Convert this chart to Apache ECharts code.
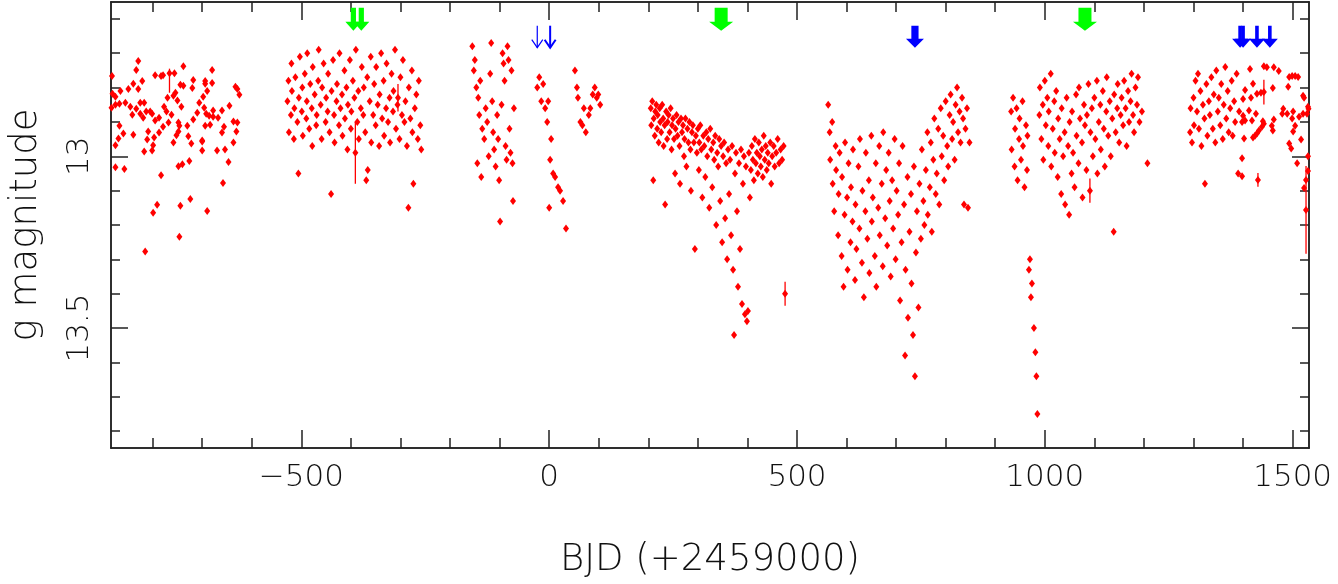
<!DOCTYPE html>
<html>
<head>
<meta charset="utf-8">
<title>g magnitude light curve</title>
<script src="https://cdn.jsdelivr.net/npm/echarts@6/dist/echarts.min.js"></script>
<style>
  html, body { margin: 0; padding: 0; background: #fff; }
  #chart { width: 1338px; height: 584px; }
</style>
</head>
<body>
<div id="chart"></div>
<script>
// ---- data: [BJD - 2459000, g mag] ----
const season1 = [[-882,12.766],[-829,12.723],[-833,12.749],[-738,12.738],[-680,12.749],[-795,12.764],[-783,12.766],[-779,12.764],[-766,12.758],[-756,12.758],[-718,12.778],[-821,12.781],[-744,12.792],[-738,12.795],[-720,12.801],[-694,12.781],[-694,12.789],[-680,12.787],[-633,12.798],[-629,12.804],[-625,12.821],[-690,12.810],[-881,12.818],[-875,12.827],[-865,12.810],[-849,12.804],[-839,12.789],[-829,12.804],[-770,12.830],[-777,12.856],[-758,12.824],[-754,12.815],[-750,12.838],[-762,12.879],[-742,12.856],[-883,12.859],[-875,12.850],[-867,12.847],[-855,12.844],[-845,12.856],[-841,12.879],[-833,12.862],[-825,12.844],[-817,12.844],[-813,12.870],[-825,12.876],[-819,12.888],[-805,12.870],[-801,12.876],[-795,12.896],[-787,12.888],[-779,12.914],[-768,12.902],[-748,12.902],[-748,12.928],[-758,12.960],[-746,12.911],[-730,12.911],[-718,12.893],[-710,12.873],[-706,12.844],[-698,12.827],[-696,12.859],[-694,12.911],[-692,12.876],[-686,12.882],[-684,12.908],[-678,12.867],[-678,12.885],[-668,12.888],[-660,12.867],[-645,12.853],[-656,12.914],[-660,12.931],[-637,12.899],[-629,12.902],[-631,12.928],[-637,12.960],[-647,13.017],[-654,12.980],[-658,13.078],[-670,12.983],[-700,12.957],[-700,12.983],[-722,12.963],[-726,13.014],[-740,13.023],[-748,13.029],[-728,12.942],[-799,12.968],[-801,12.983],[-811,12.951],[-809,12.928],[-817,12.986],[-839,12.937],[-859,12.934],[-867,12.911],[-869,12.948],[-875,12.968],[-875,13.032],[-857,13.037],[-783,13.055],[-791,13.141],[-799,13.164],[-744,13.144],[-724,13.124],[-690,13.159],[-746,13.234],[-815,13.277],[-787,12.931],[-797,12.945],[-752,12.939],[-700,12.954],[-772,12.870]];

const season2 = [[-528,12.84],[-526,12.78],[-525,12.93],[-521,12.88],[-520,12.73],[-519,12.81],[-515,12.95],[-514,12.86],[-512,12.77],[-508,12.90],[-506,13.05],[-505,12.83],[-503,12.71],[-499,12.87],[-498,12.80],[-497,12.94],[-493,12.76],[-490,12.89],[-489,12.84],[-488,12.70],[-484,12.92],[-482,12.79],[-479,12.86],[-478,12.97],[-477,12.74],[-473,12.82],[-470,12.91],[-469,12.88],[-466,12.78],[-465,12.69],[-461,12.85],[-459,12.95],[-458,12.80],[-455,12.73],[-451,12.90],[-450,12.83],[-447,12.87],[-446,12.76],[-443,12.93],[-440,13.11],[-439,12.81],[-436,12.72],[-434,12.88],[-433,12.96],[-429,12.84],[-428,12.79],[-424,12.91],[-423,12.70],[-421,12.86],[-418,12.82],[-417,12.94],[-413,12.75],[-412,12.89],[-409,12.80],[-407,12.98],[-406,12.85],[-402,12.72],[-400,12.92],[-399,12.87],[-396,12.78],[-393,12.83],[-391,12.99],[-390,12.69],[-387,12.90],[-385,12.81],[-384,12.95],[-380,12.86],[-378,12.74],[-375,12.88],[-374,12.80],[-371,12.93],[-369,13.07],[-367,12.77],[-366,13.04],[-362,12.84],[-360,12.71],[-359,12.96],[-355,12.88],[-353,12.79],[-350,12.91],[-349,12.74],[-346,12.85],[-343,12.97],[-342,12.82],[-339,12.70],[-337,12.89],[-334,12.78],[-333,12.94],[-329,12.86],[-328,12.73],[-325,12.90],[-322,12.83],[-321,12.96],[-318,12.76],[-315,12.87],[-314,12.81],[-311,12.69],[-309,12.92],[-306,12.85],[-305,12.83],[-302,12.95],[-300,12.77],[-297,12.88],[-295,12.72],[-292,12.90],[-290,12.84],[-287,12.97],[-284,13.15],[-283,12.80],[-280,12.89],[-277,12.75],[-276,12.93],[-274,13.08],[-271,12.86],[-268,12.82],[-265,12.95],[-263,12.78],[-260,12.91],[-258,12.98]];

const season3 = [[-155,12.68],[-152,12.75],[-150,12.72],[-147,12.80],[-145,13.02],[-143,12.83],[-141,12.88],[-139,12.78],[-137,13.06],[-135,12.92],[-131,12.95],[-128,12.86],[-125,12.90],[-122,13.00],[-119,12.76],[-117,12.67],[-115,12.84],[-113,12.93],[-111,12.98],[-108,13.03],[-105,12.88],[-103,12.95],[-101,13.07],[-99,13.19],[-96,12.85],[-94,12.70],[-92,12.73],[-90,12.78],[-88,12.97],[-86,13.01],[-84,12.68],[-82,12.72],[-80,12.92],[-78,12.99],[-76,12.75],[-74,13.02],[-73,13.13],[-71,12.86],
  [-24,12.80],[-20,12.77],[-16,12.84],[-12,12.79],[-8,12.86],[-4,12.90],[-2,12.84],[2,13.01],[4,12.95],[0,13.15],[8,13.05],[12,13.06],[18,13.09],[22,13.10],[28,13.13],[34,13.21],[52,12.75],[56,12.80],[58,12.83],[63,12.90],[67,12.91],[70,12.86],[74,12.93],[80,12.88],[83,12.86],[88,12.82],[92,12.80],[96,12.83],[99,12.82],[103,12.85]];

const season4 = [[205,12.86],[206,12.91],[208,12.84],[210,13.07],[211,12.89],[213,12.94],[214,12.87],[216,12.85],[218,12.92],[219,12.88],[221,12.96],[223,12.86],[224,12.90],[226,12.93],[228,12.85],[230,12.89],[231,12.97],[233,12.91],[234,13.14],[236,12.87],[238,12.95],[239,12.90],[241,12.88],[243,12.93],[245,12.86],[247,12.98],[248,12.91],[250,12.89],[252,12.95],[254,13.05],[255,12.92],[257,12.88],[259,12.94],[261,12.90],[263,12.97],[264,13.08],[266,12.89],[268,12.93],[270,12.91],[272,13.00],[273,12.95],[275,12.89],[277,13.03],[279,12.92],[281,12.96],[283,12.90],[285,12.98],[286,13.10],[288,12.93],[290,12.91],[292,12.96],[294,13.27],[296,12.94],[298,12.99],[300,12.92],[302,13.04],[303,12.96],[305,12.91],[307,12.98],[309,13.12],[311,12.94],[313,12.97],[315,13.06],[317,12.93],[319,13.00],[321,12.95],[323,13.15],[325,12.92],[327,12.98],[329,13.09],[331,12.96],[333,13.01],[335,12.94],[337,13.20],[339,12.99],[341,13.03],[343,12.95],[345,13.13],[347,12.97],[349,13.25],[351,13.00],[353,12.96],[355,13.18],[357,13.02],[359,13.30],[361,12.98],[363,13.11],[365,13.01],[367,13.23],[369,12.97],[371,13.33],[373,13.52],[375,13.05],[377,12.99],[379,13.16],[381,13.38],[383,13.02],[385,13.27],[387,12.98],[389,13.43],[391,13.08],[393,13.00],[395,13.46],[397,13.03],[399,13.48],[401,13.45],[403,12.99],[405,13.12],[407,13.04],[409,12.97],[411,13.01],[413,13.07],[415,12.95],[417,13.02],[419,12.99],[421,13.05],[423,12.96],[425,13.00],[427,13.03],[429,12.98],[431,13.06],[433,12.94],[435,13.01],[437,12.97],[439,13.04],[441,12.99],[443,13.02],[446,12.96],[448,13.08],[450,13.00],[453,12.97],[455,13.03],[458,12.99],[461,12.95],[464,13.02],[467,12.98],[470,13.01],[473,12.97],[476,13.40]];

const season5 = [[563,12.85],[566,12.93],[567,13.01],[571,12.90],[572,13.08],[575,13.16],[578,12.97],[579,13.04],[583,13.23],[584,13.11],[586,12.99],[590,13.29],[591,13.06],[594,13.38],[596,13.17],[597,12.96],[601,13.12],[602,13.33],[604,13.02],[608,13.25],[609,13.09],[612,13.19],[613,12.98],[617,13.36],[618,13.14],[620,13.27],[624,13.03],[626,13.21],[627,12.95],[631,13.31],[632,13.10],[635,13.41],[638,13.16],[639,12.99],[642,13.24],[645,13.07],[646,13.34],[650,12.94],[651,13.19],[653,13.12],[657,13.29],[659,13.02],[660,13.38],[664,13.15],[666,12.97],[667,13.23],[671,13.08],[673,13.32],[674,12.93],[678,13.18],[680,13.04],[682,13.26],[685,12.99],[687,13.13],[689,13.35],[692,13.07],[694,13.21],[697,12.95],[699,13.30],[701,13.10],[704,13.17],[706,13.02],[708,13.42],[711,13.25],[713,12.97],[716,13.14],[718,13.58],[719,13.33],[723,13.06],[724,13.47],[727,13.22],[730,13.11],[731,13.37],[734,13.52],[736,13.03],[738,13.64],[740,13.28],[742,13.16],[745,13.44],[747,13.08],[750,13.24],[752,12.98],[755,13.13],[757,13.20],[760,13.04],[763,12.93],[764,13.17],[768,13.09],[770,12.96],[772,13.22],[775,13.01],[777,12.89],[780,13.11],[782,13.05],[785,12.92],[787,13.14],[790,12.86],[792,13.00],[795,12.94],[797,13.07],[800,12.84],[803,12.97],[805,13.03],[808,12.88],[810,12.82],[813,12.95],[815,12.90],[818,13.01],[820,12.85],[823,12.80],[825,12.93],[828,12.87],[830,12.96],[833,12.83],[835,12.89],[837,13.14],[840,12.92],[843,12.86],[845,13.15],[848,12.96]];

const season6 = [[932,12.87],[933,12.98],[936,12.83],[939,13.03],[940,12.92],[943,12.86],[945,13.07],[948,12.95],[949,12.89],[952,13.01],[955,12.84],[956,12.97],[959,13.09],[962,12.91],[964,13.04],[965,12.94],[968,13.33],[970,13.30],[972,13.41],[974,13.37],[978,13.50],[981,13.57],[983,13.64],[985,13.75],[989,12.88],[990,12.80],[993,12.95],[996,12.85],[997,13.01],[1000,12.78],[1002,12.91],[1005,12.83],[1007,12.97],[1008,12.87],[1012,12.76],[1013,13.03],[1016,12.92],[1019,12.84],[1020,12.99],[1023,12.81],[1026,13.06],[1027,12.89],[1030,12.95],[1033,13.11],[1034,12.86],[1037,13.00],[1040,12.93],[1041,13.14],[1044,12.83],[1047,12.97],[1049,13.17],[1050,12.90],[1054,13.05],[1055,12.87],[1057,12.99],[1060,13.09],[1063,12.82],[1064,12.94],[1068,13.02],[1069,12.80],[1071,12.89],[1075,12.96],[1076,13.12],[1079,12.85],[1081,12.91],[1084,13.04],[1085,12.88],[1088,12.79],[1091,13.10],[1092,12.93],[1095,12.86],[1097,13.00],[1100,12.83],[1102,12.95],[1105,12.78],[1106,13.05],[1109,12.90],[1112,12.85],[1113,12.98],[1117,12.81],[1119,12.92],[1121,13.03],[1124,12.87],[1125,12.77],[1128,12.94],[1131,12.84],[1133,13.00],[1136,12.89],[1139,13.22],[1140,12.82],[1143,12.93],[1146,12.86],[1147,12.79],[1150,12.96],[1153,12.88],[1155,12.83],[1158,12.91],[1160,12.78],[1163,12.86],[1165,12.97],[1168,12.81],[1170,12.90],[1173,12.84],[1175,12.76],[1178,12.88],[1180,12.93],[1183,12.80],[1186,12.85],[1188,12.77],[1191,12.90],[1196,12.87],[1207,13.02]];

const season7 = [[1293,12.93],[1294,12.86],[1297,12.96],[1300,12.83],[1301,12.91],[1304,12.78],[1307,12.87],[1309,12.76],[1311,12.92],[1314,12.81],[1316,12.97],[1319,12.85],[1322,12.89],[1323,13.08],[1326,12.79],[1328,12.94],[1331,12.84],[1333,12.88],[1336,12.77],[1339,12.92],[1341,12.82],[1344,12.96],[1346,12.75],[1349,12.87],[1351,12.83],[1354,12.91],[1356,12.79],[1359,12.95],[1361,12.85],[1364,12.74],[1366,12.89],[1369,12.81],[1371,12.93],[1374,12.86],[1377,12.78],[1379,12.94],[1382,12.84],[1384,12.90],[1387,12.76],[1390,13.05],[1392,12.87],
  [1414,12.746],[1442,12.738],[1448,12.741],[1462,12.741],[1472,12.752],[1404,12.807],[1420,12.789],[1400,12.833],[1416,12.830],[1428,12.818],[1436,12.815],[1442,12.813],[1460,12.801],[1493,12.769],[1499,12.766],[1505,12.766],[1511,12.769],[1491,12.798],[1521,12.824],[1523,12.830],[1531,12.856],[1532,12.862],[1529,12.876],[1521,12.876],[1513,12.885],[1501,12.870],[1499,12.890],[1489,12.876],[1481,12.862],[1479,12.876],[1462,12.893],[1458,12.911],[1460,12.925],[1442,12.905],[1440,12.898],[1438,12.914],[1432,12.925],[1428,12.934],[1424,12.940],[1426,12.876],[1418,12.896],[1412,12.867],[1400,12.882],[1404,12.896],[1398,12.900],[1402,12.948],[1420,12.945],[1505,12.911],[1501,12.928],[1493,12.963],[1497,12.977],[1517,12.951],[1509,13.020],[1531,13.000],[1531,13.043],[1527,13.069],[1523,13.092],[1527,13.156],[1430,13.069],[1398,13.006],[1398,13.058]];

// points with visible error bars: [day, mag, err]
const errorBars = [[-766,12.78,0.035],[-391,12.99,0.09],[-305,12.83,0.04],[476,13.40,0.035],[1091,13.10,0.035],[1442,12.813,0.036],[1430,13.069,0.02],[1527,13.156,0.128]];

// event markers (days)
const greenPairDays = [-395, -379];
const greenDays = [347, 1081];
const blueThinDays = [-24, 2];
const blueDays = [738];
const blueGroupDays = [1394, 1400, 1428, 1454];

// axis ticks
const xMajor = [-500, 0, 500, 1000, 1500];
const xMinor = [-800,-700,-600,-400,-300,-200,-100,100,200,300,400,600,700,800,900,1100,1200,1300,1400];
const yMajor = [13, 13.5];
const yMinor = [12.6,12.7,12.8,12.9,13.1,13.2,13.3,13.4,13.6,13.7,13.8];

const FONT = "'DejaVu Sans ExtraLight', 'DejaVu Sans', sans-serif";
const X_MIN = -884, X_MAX = 1533;
const Y_MIN = 12.551, Y_MAX = 13.849;
const GREEN_TOP = 12.568, BLUE_TOP = 12.620;
const AXIS_COLOR = '#222';

const points = [].concat(season1, season2, season3, season4, season5, season6, season7);

function xAxisDef(position, ticks, len, labels) {
  return {
    type: 'value', position: position, min: X_MIN, max: X_MAX,
    axisLine: { show: true, onZero: false, lineStyle: { color: AXIS_COLOR, width: 1.5 } },
    axisTick: { show: true, inside: true, length: len, customValues: ticks, lineStyle: { color: AXIS_COLOR, width: 1.5 } },
    axisLabel: labels ? {
      show: true, customValues: ticks, margin: 14, fontSize: 31, fontFamily: FONT, fontWeight: 200, color: '#111',
      formatter: v => (v < 0 ? '\u2212' + (-v) : String(v))
    } : { show: false },
    splitLine: { show: false }
  };
}

function yAxisDef(position, ticks, len, labels) {
  return {
    type: 'value', position: position, min: Y_MIN, max: Y_MAX, inverse: true,
    axisLine: { show: true, onZero: false, lineStyle: { color: AXIS_COLOR, width: 1.5 } },
    axisTick: { show: true, inside: true, length: len, customValues: ticks, lineStyle: { color: AXIS_COLOR, width: 1.5 } },
    axisLabel: labels ? {
      show: true, customValues: ticks, rotate: 90, margin: 16, fontSize: 31, fontFamily: FONT, fontWeight: 200, color: '#111',
      formatter: v => String(v)
    } : { show: false },
    splitLine: { show: false }
  };
}

// block arrow pointing down, top at (day, topMag)
function blockArrow(color, hw, sw, h, hh) {
  return function (params, api) {
    const p = api.coord([api.value(0), api.value(1)]);
    const x = p[0], y = p[1];
    return {
      type: 'polygon',
      shape: { points: [[x - sw, y], [x + sw, y], [x + sw, y + h - hh], [x + hw, y + h - hh], [x, y + h], [x - hw, y + h - hh], [x - sw, y + h - hh]] },
      style: { fill: color }
    };
  };
}

function lineArrow(color, hw, h, hh) {
  return function (params, api) {
    const p = api.coord([api.value(0), api.value(1)]);
    const x = p[0], y = p[1];
    const lw = params.dataIndex === 0 ? 1.2 : 2;
    return {
      type: 'group',
      children: [
        { type: 'line', shape: { x1: x, y1: y, x2: x, y2: y + h }, style: { stroke: color, lineWidth: lw } },
        { type: 'polyline', shape: { points: [[x - hw, y + h - hh], [x, y + h], [x + hw, y + h - hh]] }, style: { stroke: color, lineWidth: lw, fill: null } }
      ]
    };
  };
}

function arrowSeries(days, top, render) {
  return { type: 'custom', renderItem: render, data: days.map(d => [d, top]), clip: false, silent: true, z: 5 };
}

const chart = echarts.init(document.getElementById('chart'));
chart.setOption({
  animation: false,
  textStyle: { fontFamily: FONT },
  grid: { left: 110, right: 29, top: 2, bottom: 132 },
  xAxis: [
    Object.assign(xAxisDef('bottom', xMajor, 18, true), {
      name: 'BJD (+2459000)', nameLocation: 'middle', nameGap: 94,
      nameTextStyle: { fontSize: 37, fontFamily: FONT, fontWeight: 200, color: '#111' }
    }),
    xAxisDef('bottom', xMinor, 10, false),
    xAxisDef('top', xMajor, 18, false),
    xAxisDef('top', xMinor, 10, false)
  ],
  yAxis: [
    Object.assign(yAxisDef('left', yMajor, 17, true), {
      name: 'g magnitude', nameLocation: 'middle', nameRotate: 90, nameGap: 66,
      nameTextStyle: { fontSize: 37, fontFamily: FONT, fontWeight: 200, color: '#111' }
    }),
    yAxisDef('left', yMinor, 9, false),
    yAxisDef('right', yMajor, 17, false),
    yAxisDef('right', yMinor, 9, false)
  ],
  series: [
    {
      type: 'custom', xAxisIndex: 0, yAxisIndex: 0, data: errorBars, z: 3,
      renderItem: function (params, api) {
        const a = api.coord([api.value(0), api.value(1) - api.value(2)]);
        const b = api.coord([api.value(0), api.value(1) + api.value(2)]);
        return { type: 'line', shape: { x1: a[0], y1: a[1], x2: b[0], y2: b[1] }, style: { stroke: '#ff0000', lineWidth: 1.3 } };
      }
    },
    {
      type: 'scatter', xAxisIndex: 0, yAxisIndex: 0, data: points, z: 4,
      symbol: 'diamond', symbolSize: [6, 8],
      itemStyle: { color: '#ff0000', opacity: 1 }
    },
    arrowSeries(greenPairDays, GREEN_TOP, blockArrow('#00ff00', 8, 2.6, 23, 9)),
    arrowSeries(greenDays, GREEN_TOP, blockArrow('#00ff00', 12, 6.5, 23, 9)),
    arrowSeries(blueThinDays, BLUE_TOP, lineArrow('#0000ff', 5.5, 22, 8)),
    arrowSeries(blueDays, BLUE_TOP, blockArrow('#0000ff', 9, 3.6, 22, 9)),
    arrowSeries(blueGroupDays, BLUE_TOP, blockArrow('#0000ff', 8, 1.8, 22, 9))
  ]
});
</script>
</body>
</html>
